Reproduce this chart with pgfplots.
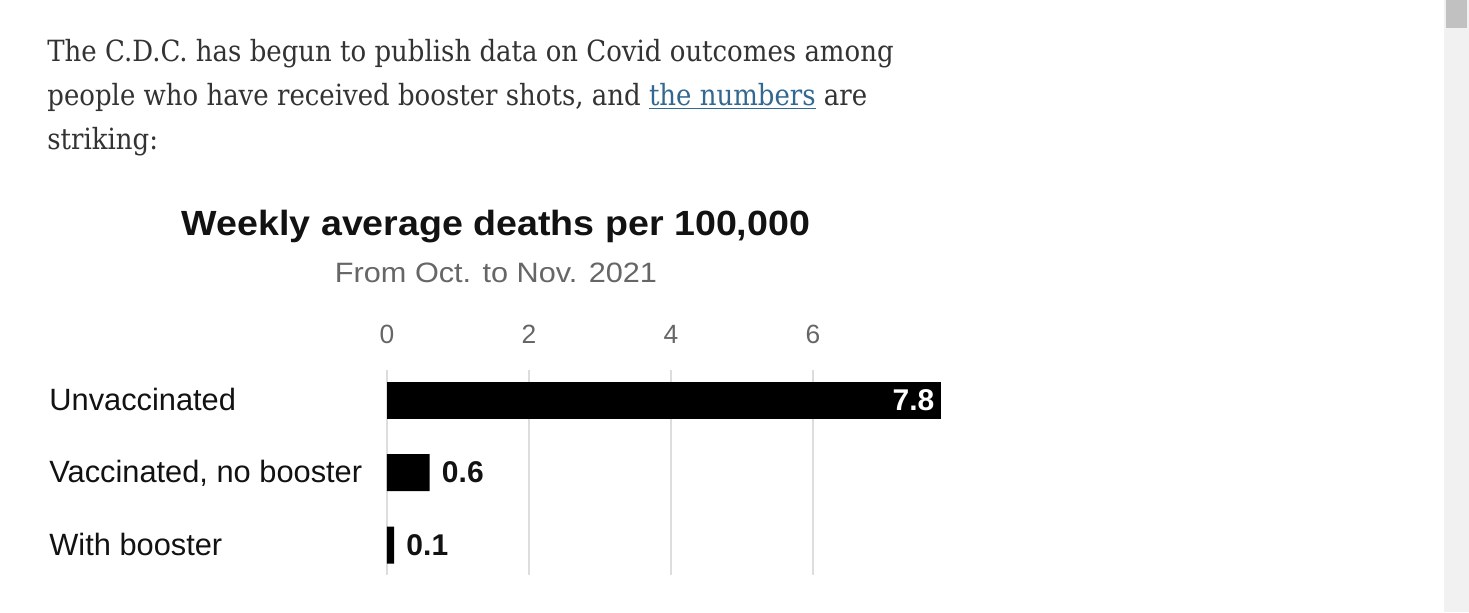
\documentclass[border=0pt]{standalone}
\usepackage{pgfplots}
\pgfplotsset{compat=1.18}
\usepackage{fontspec}
\setmainfont{Liberation Sans}
\newfontfamily\bodyfont[FakeStretch=0.89]{DejaVu Serif}
\newfontfamily\titlefont[FakeStretch=1.074]{Liberation Sans}
\newfontfamily\subfont[FakeStretch=1.095]{Liberation Sans}
\definecolor{bodytext}{HTML}{333333}
\definecolor{linkblue}{HTML}{326891}
\definecolor{ink}{HTML}{121212}
\definecolor{subgray}{HTML}{666666}
\definecolor{gridgray}{HTML}{DDDDDD}
\definecolor{scrolltrack}{HTML}{F1F1F1}
\definecolor{scrollthumb}{HTML}{C1C1C1}

\begin{document}
\begin{tikzpicture}[x=0.5pt,y=-0.5pt]
  % page and scrollbar
  \fill[white] (0,0) rectangle (1469,612);
  \fill[scrolltrack] (1444,0) rectangle (1469,612);
  \fill[scrollthumb] (1446,0) rectangle (1467,28);

  % article text
  \begin{scope}[every node/.style={anchor=base west, inner sep=0pt, text=bodytext,
      font=\bodyfont\fontsize{14.6}{18}\selectfont}]
    \node at (47,61.5) {The C.D.C. has begun to publish data on Covid outcomes among};
    \node at (47,105.5) {people who have received booster shots, and {\color{linkblue}\underline{the numbers}} are};
    \node at (47,149.5) {striking:};
  \end{scope}

  % titles
  \node[anchor=base, inner sep=0pt, text=ink, font=\titlefont\bfseries\fontsize{17.5}{20}\selectfont]
    at (496,235) {Weekly average deaths per 100,000};
  \node[anchor=base, inner sep=0pt, text=subgray, font=\subfont\fontsize{14}{17}\selectfont]
    at (496,282) {From Oct. to Nov. 2021};

  \begin{axis}[
    at={(193.5pt,-185pt)}, anchor=north west,
    scale only axis, width=276.9pt, height=102.5pt,
    xbar, bar width=18.5pt,
    xmin=0, xmax=7.8, ymin=-0.414, ymax=2.414, y dir=reverse,
    xtick={0,2,4,6}, xticklabel pos=top,
    xmajorgrids, major grid style={gridgray, line width=0.75pt},
    axis line style={draw=none}, major tick length=0pt,
    ytick={0,1,2},
    yticklabels={Unvaccinated, {Vaccinated, no booster}, With booster},
    yticklabel style={anchor=base west, inner sep=0pt, xshift=-169pt, yshift=-5pt,
      text=ink, font=\fontsize{15.4}{18}\selectfont},
    xticklabel style={anchor=base, inner sep=0pt, yshift=13.5pt,
      text=subgray, font=\fontsize{13.2}{15}\selectfont},
    /pgf/number format/assume math mode=true,
    point meta=x,
    clip=false,
  ]
    \addplot[fill=black, draw=none, bar shift=0pt, nodes near coords,
      nodes near coords style={anchor=east, inner sep=0pt, xshift=-3pt, text=white,
        font=\bfseries\fontsize{15}{18}\selectfont}]
      coordinates {(7.8,0)};
    \addplot[fill=black, draw=none, bar shift=0pt, nodes near coords,
      nodes near coords style={anchor=west, inner sep=0pt, xshift=6pt, text=ink,
        font=\bfseries\fontsize{15}{18}\selectfont}]
      coordinates {(0.6,1) (0.1,2)};
  \end{axis}

  \pgfresetboundingbox
  \path[use as bounding box] (0,0) rectangle (1469,612);
\end{tikzpicture}
\end{document}
